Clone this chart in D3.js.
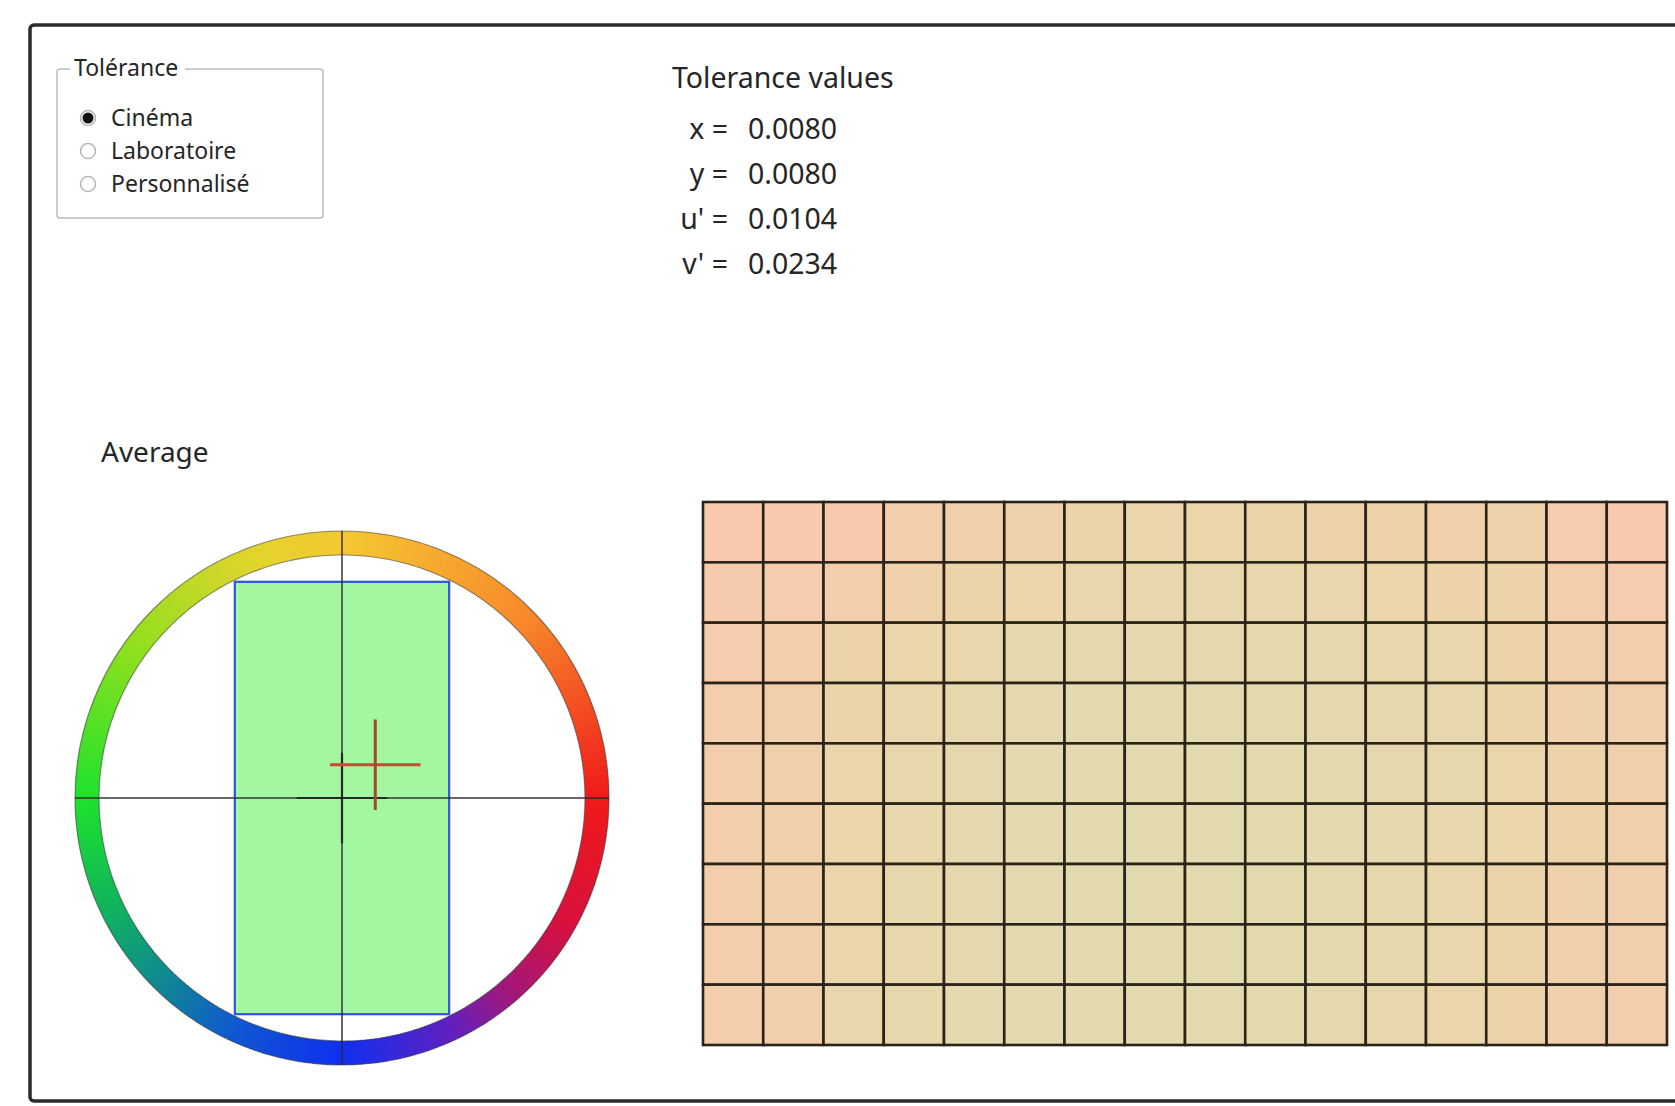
<!DOCTYPE html>
<html>
<head>
<meta charset="utf-8">
<script src="https://cdn.jsdelivr.net/npm/d3@7"></script>
<style>
body { margin: 0; background: #fff; }
text { font-family: "Noto Sans", sans-serif; fill: #262626; }
</style>
</head>
<body>
<div id="chart-area"></div>
<script>
/*
*    tolerance / uniformity view
*/

var width = 1675;
var height = 1106;

// tolerance presets (radio group)
var presets = ["Cinéma", "Laboratoire", "Personnalisé"];
var selectedPreset = "Cinéma";

// tolerance values
var tolLabels = ["x", "y", "u'", "v'"];
var tolValues = [0.0080, 0.0080, 0.0104, 0.0234];

// average: tolerance box and measured average offset (du', dv')
var boxU = [-0.0116, 0.0116];
var boxV = [-0.0234, 0.0234];
var averagePoint = [0.0036, 0.0036];
var crossArm = 0.0049;
var wheelExtent = 0.0289;

// hue ring stops: angle (deg, clockwise from top) -> colour
var ringAngles = [0, 45, 90, 120, 140, 155, 180, 205, 225, 245, 270, 305, 340, 360];
var ringColors = ["#f4c832", "#f88a2c", "#f01a1a", "#d8103e", "#a0187e", "#6020c0",
                  "#1030f0", "#1058d0", "#108a90", "#10b45c", "#1ee22c", "#8ee01e",
                  "#e2d42c", "#f4c832"];

// uniformity grid: deviation per cell (rows top -> bottom)
var gridValues = [
    [9.5, 9.5, 9.5, 7.5, 6.5, 6.0, 5.0, 4.5, 4.5, 5.0, 5.5, 5.5, 6.5, 6.0, 8.5, 9.5],
    [9.0, 8.5, 7.5, 6.0, 5.0, 4.5, 4.0, 3.5, 3.5, 3.5, 4.0, 4.5, 5.5, 5.5, 7.5, 8.5],
    [8.5, 7.5, 5.5, 4.5, 4.0, 3.0, 3.0, 2.5, 2.5, 2.5, 3.0, 3.5, 4.0, 5.5, 7.0, 7.5],
    [8.0, 6.5, 5.0, 4.0, 3.0, 2.5, 2.0, 2.0, 2.0, 2.0, 2.5, 3.0, 3.5, 5.0, 6.0, 7.0],
    [7.5, 6.5, 4.5, 3.5, 2.5, 2.0, 2.0, 1.5, 1.5, 1.5, 2.0, 2.5, 3.0, 4.5, 5.5, 6.5],
    [7.5, 6.5, 4.5, 3.5, 2.5, 2.0, 1.5, 1.5, 1.5, 1.5, 2.0, 2.5, 3.5, 4.5, 5.5, 6.5],
    [7.5, 6.5, 4.5, 3.0, 2.5, 2.0, 1.5, 1.5, 1.5, 1.5, 2.0, 3.0, 4.0, 5.0, 6.0, 7.0],
    [7.5, 7.0, 4.5, 3.5, 2.5, 2.0, 2.0, 1.5, 1.5, 1.5, 2.0, 3.0, 4.0, 5.0, 6.5, 7.0],
    [7.5, 7.0, 4.0, 3.0, 2.0, 2.0, 2.0, 2.0, 2.0, 2.0, 2.5, 3.5, 4.5, 5.5, 6.5, 7.5]
];

var svg = d3.select("#chart-area").append("svg")
    .attr("width", width)
    .attr("height", height);

// outer frame
svg.append("rect")
    .attr("x", 30)
    .attr("y", 25)
    .attr("width", 1700)
    .attr("height", 1076)
    .attr("rx", 4)
    .attr("fill", "#fff")
    .attr("stroke", "#2b2b2b")
    .attr("stroke-width", 3.5);

// ---- Tolérance group box
var gb = svg.append("g");
gb.append("rect")
    .attr("x", 57).attr("y", 69)
    .attr("width", 266).attr("height", 149)
    .attr("rx", 3)
    .attr("fill", "none")
    .attr("stroke", "#bdbdbd")
    .attr("stroke-width", 1.5);
gb.append("rect")
    .attr("x", 70).attr("y", 60)
    .attr("width", 115).attr("height", 18)
    .attr("fill", "#fff");
gb.append("text")
    .attr("x", 74).attr("y", 68)
    .attr("dy", "0.35em")
    .style("font-size", "23px")
    .text("Tolérance");

var radioY = d3.scalePoint()
    .domain(presets)
    .range([118, 184]);

var radios = gb.selectAll(".radio")
    .data(presets)
    .enter().append("g")
    .attr("class", "radio")
    .attr("transform", (d) => "translate(0, " + radioY(d) + ")");

radios.append("circle")
    .attr("cx", 88)
    .attr("r", 7.5)
    .attr("fill", "#fff")
    .attr("stroke", "#b5b5b5")
    .attr("stroke-width", 1.5);

radios.filter((d) => d === selectedPreset)
    .append("circle")
    .attr("cx", 88)
    .attr("r", 5.5)
    .attr("fill", "#111");

radios.append("text")
    .attr("x", 111)
    .attr("dy", "0.35em")
    .style("font-size", "23px")
    .text((d) => d);

// ---- Tolerance values
svg.append("text")
    .attr("x", 672).attr("y", 78)
    .attr("dy", "0.35em")
    .style("font-size", "28.5px")
    .text("Tolerance values");

var rowY = d3.scalePoint()
    .domain(tolLabels)
    .range([129, 264]);

var rows = svg.selectAll(".tol-row")
    .data(tolLabels)
    .enter().append("g")
    .attr("class", "tol-row")
    .attr("transform", (d) => "translate(0, " + rowY(d) + ")");

rows.append("text")
    .attr("x", 728)
    .attr("dy", "0.35em")
    .attr("text-anchor", "end")
    .style("font-size", "28.5px")
    .text((d) => d + " =");

rows.append("text")
    .attr("x", 748)
    .attr("dy", "0.35em")
    .style("font-size", "28.5px")
    .text((d, i) => tolValues[i].toFixed(4));

// ---- Average
svg.append("text")
    .attr("x", 101).attr("y", 452)
    .attr("dy", "0.35em")
    .style("font-size", "28px")
    .text("Average");

var cx = 342, cy = 798, rOuter = 267, rInner = 243;

var x = d3.scaleLinear()
    .domain([-wheelExtent, wheelExtent])
    .range([cx - rOuter, cx + rOuter]);

var y = d3.scaleLinear()
    .domain([-wheelExtent, wheelExtent])
    .range([cy + rOuter, cy - rOuter]);

var wheel = svg.append("g");

// hue ring
var hue = d3.scaleLinear()
    .domain(ringAngles)
    .range(ringColors)
    .interpolate(d3.interpolateRgb);

var arc = d3.arc()
    .innerRadius(rInner)
    .outerRadius(rOuter);

var segments = d3.range(0, 360, 1);

wheel.append("g")
    .attr("transform", "translate(" + cx + ", " + cy + ")")
    .selectAll("path")
    .data(segments)
    .enter().append("path")
        .attr("d", (d) => arc({
            startAngle: d * Math.PI / 180,
            endAngle: (d + 1.3) * Math.PI / 180
        }))
        .attr("fill", (d) => hue(d + 0.5));

wheel.selectAll(".ring-edge")
    .data([rOuter, rInner])
    .enter().append("circle")
    .attr("class", "ring-edge")
    .attr("cx", cx).attr("cy", cy)
    .attr("r", (d) => d)
    .attr("fill", "none")
    .attr("stroke", "#3a3a3a")
    .attr("stroke-opacity", 0.55)
    .attr("stroke-width", 1.2);

// tolerance box
wheel.append("rect")
    .attr("x", x(boxU[0]))
    .attr("y", y(boxV[1]))
    .attr("width", x(boxU[1]) - x(boxU[0]))
    .attr("height", y(boxV[0]) - y(boxV[1]))
    .attr("fill", "#a3f7a0")
    .attr("stroke", "#2f55dd")
    .attr("stroke-width", 2.2);

// axes through centre
wheel.append("line")
    .attr("x1", x(-wheelExtent)).attr("x2", x(wheelExtent))
    .attr("y1", y(0)).attr("y2", y(0))
    .attr("stroke", "#2a2a2a")
    .attr("stroke-opacity", 0.7)
    .attr("stroke-width", 2);

wheel.append("line")
    .attr("x1", x(0)).attr("x2", x(0))
    .attr("y1", y(-wheelExtent)).attr("y2", y(wheelExtent))
    .attr("stroke", "#2a2a2a")
    .attr("stroke-opacity", 0.7)
    .attr("stroke-width", 2);

// reference cross
wheel.append("line")
    .attr("x1", x(-crossArm)).attr("x2", x(crossArm))
    .attr("y1", y(0)).attr("y2", y(0))
    .attr("stroke", "#1a1a1a")
    .attr("stroke-opacity", 0.8)
    .attr("stroke-width", 2.2);

wheel.append("line")
    .attr("x1", x(0)).attr("x2", x(0))
    .attr("y1", y(-crossArm)).attr("y2", y(crossArm))
    .attr("stroke", "#1a1a1a")
    .attr("stroke-opacity", 0.8)
    .attr("stroke-width", 2.2);

// average cross
wheel.append("line")
    .attr("x1", x(averagePoint[0] - crossArm)).attr("x2", x(averagePoint[0] + crossArm))
    .attr("y1", y(averagePoint[1])).attr("y2", y(averagePoint[1]))
    .attr("stroke", "#cc4a30")
    .attr("stroke-width", 3);

wheel.append("line")
    .attr("x1", x(averagePoint[0])).attr("x2", x(averagePoint[0]))
    .attr("y1", y(averagePoint[1] - crossArm)).attr("y2", y(averagePoint[1] + crossArm))
    .attr("stroke", "#a04a2c")
    .attr("stroke-width", 3);

// ---- Uniformity grid
var cols = d3.range(gridValues[0].length);
var rowsIdx = d3.range(gridValues.length);

var gx = d3.scaleBand()
    .domain(cols)
    .range([703, 1667]);

var gy = d3.scaleBand()
    .domain(rowsIdx)
    .range([502, 1045]);

var cellColor = d3.scaleLinear()
    .domain([0, 5, 10])
    .range(["#dfdcb2", "#ecd4aa", "#f9c8ae"]);

var cells = [];
gridValues.forEach((row, r) => {
    row.forEach((v, c) => {
        cells.push({ r: r, c: c, value: v });
    });
});

svg.append("g")
    .selectAll("rect")
    .data(cells)
    .enter().append("rect")
        .attr("x", (d) => gx(d.c))
        .attr("y", (d) => gy(d.r))
        .attr("width", gx.bandwidth())
        .attr("height", gy.bandwidth())
        .attr("fill", (d) => cellColor(d.value))
        .attr("stroke", "#2a2418")
        .attr("stroke-width", 2.6);
</script>
</body>
</html>
